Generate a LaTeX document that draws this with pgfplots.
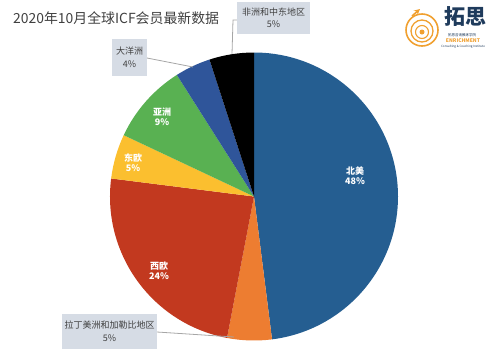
\documentclass[border=0pt]{standalone}
\usepackage{pgfplots}
\pgfplotsset{compat=1.18}
\usepackage{fontspec}
\setmainfont{Noto Sans CJK SC}
\definecolor{cNA}{HTML}{255E91}
\definecolor{cLA}{HTML}{ED7D31}
\definecolor{cWE}{HTML}{C2391F}
\definecolor{cEE}{HTML}{FBBF2F}
\definecolor{cAS}{HTML}{59B152}
\definecolor{cOC}{HTML}{2F559A}
\definecolor{cAF}{HTML}{000000}
\definecolor{boxc}{HTML}{D6DCE5}
\definecolor{txt}{HTML}{404040}
\definecolor{lead}{HTML}{A6A6A6}
\definecolor{logoB}{HTML}{1F3B5C}
\definecolor{logoO}{HTML}{F0A030}
\newcommand{\R}{144pt}
\newcommand{\cx}{254}
\newcommand{\cy}{196.5}
% \slice{start percent}{percent}{colour}
\newcommand{\slice}[3]{%
  \fill[#3] (axis cs:\cx,\cy) -- ++({90-3.6*(#1)}:\R)
    arc[start angle={90-3.6*(#1)}, end angle={90-3.6*(#1+#2)}, radius=\R] -- cycle;}
\begin{document}
\begin{tikzpicture}
\begin{axis}[
  width=495pt, height=354pt, scale only axis,
  xmin=0, xmax=495, ymin=0, ymax=354, y dir=reverse,
  hide axis, clip=false, enlargelimits=false]
\path (axis cs:0,0) rectangle (axis cs:495,354);
% data: 北美 48, 拉丁美洲和加勒比地区 5, 西欧 24, 东欧 5, 亚洲 9, 大洋洲 4, 非洲和中东地区 5
\slice{0}{48}{cNA}
\slice{48}{5}{cLA}
\slice{53}{24}{cWE}
\slice{77}{5}{cEE}
\slice{82}{9}{cAS}
\slice{91}{4}{cOC}
\slice{95}{5}{cAF}
% inside labels
\node[white, font=\fontsize{9}{11}\selectfont\bfseries, align=center] at (axis cs:355,176) {北美\\[-1pt]48\%};
\node[white, font=\fontsize{9}{11}\selectfont\bfseries, align=center] at (axis cs:159,271) {西欧\\[-1pt]24\%};
\node[white, font=\fontsize{9}{11}\selectfont\bfseries, align=center] at (axis cs:133,163) {东欧\\[-1pt]5\%};
\node[white, font=\fontsize{9}{11}\selectfont\bfseries, align=center] at (axis cs:162,117) {亚洲\\[-1pt]9\%};
% leader lines
\draw[lead, line width=0.8pt] (axis cs:147,58) -- (axis cs:193,67);
\draw[lead, line width=0.8pt] (axis cs:238,20) -- (axis cs:233,20) -- (axis cs:232,54);
\draw[lead, line width=0.8pt] (axis cs:157,332) -- (axis cs:234,337);
% callout boxes
\node[fill=boxc, text=txt, font=\fontsize{9}{11}\selectfont, align=center, minimum width=35pt, minimum height=37pt, inner sep=2pt] at (axis cs:129.5,57) {大洋洲\\[2pt]4\%};
\node[fill=boxc, text=txt, font=\fontsize{9}{11}\selectfont, align=center, minimum width=73pt, minimum height=32pt, inner sep=2pt] at (axis cs:273.5,18) {非洲和中东地区\\[1pt]5\%};
\node[fill=boxc, text=txt, font=\fontsize{9}{11}\selectfont, align=center, minimum width=95pt, minimum height=35pt, inner sep=2pt] at (axis cs:109.5,331.5) {拉丁美洲和加勒比地区\\[2pt]5\%};
% title
\node[anchor=west, text=txt, font=\fontsize{13.9}{16}\selectfont, inner sep=0pt] at (axis cs:13,18) {2020年10月全球ICF会员最新数据};
% logo
\draw[logoO, line width=1.6pt] (axis cs:422,30) circle[radius=16pt];
\draw[logoO, line width=1.3pt] (axis cs:422,31) circle[radius=11pt];
\draw[logoO, line width=1.1pt] (axis cs:422,32) circle[radius=6.5pt];
\fill[logoO] (axis cs:422,32) circle[radius=2.5pt];
\draw[logoO, line width=1.6pt, -stealth] (axis cs:412,16) -- (axis cs:420,9);
\node[logoB, font=\fontsize{21}{22}\selectfont\bfseries] at (axis cs:465,17) {拓思};
\node[logoB, font=\fontsize{3.5}{4}\selectfont] at (axis cs:462,35) {拓思咨询教练学院};
\node[logoO, font=\fontsize{5}{6}\selectfont\bfseries] at (axis cs:463,41) {ENRICHMENT};
\node[logoB, font=\fontsize{3}{4}\selectfont] at (axis cs:463,47) {Consulting \& Coaching Institute};
\end{axis}
\end{tikzpicture}
\end{document}
